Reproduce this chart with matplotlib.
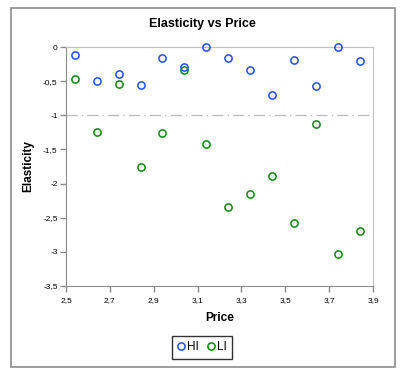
import matplotlib
matplotlib.use("Agg")
import matplotlib.pyplot as plt
from matplotlib.patches import Rectangle
from matplotlib.ticker import FuncFormatter

price = [2.54, 2.64, 2.74, 2.84, 2.94, 3.04, 3.14, 3.24, 3.34, 3.44, 3.54, 3.64, 3.74, 3.84]
hi = [-0.12, -0.49, -0.39, -0.55, -0.15, -0.29, 0.0, -0.16, -0.33, -0.70, -0.18, -0.565, 0.0, -0.195]
li = [-0.47, -1.25, -0.545, -1.75, -1.265, -0.34, -1.42, -2.34, -2.16, -1.89, -2.58, -1.12, -3.04, -2.70]
series_names = ["HI", "LI"]
xticks = [2.5, 2.7, 2.9, 3.1, 3.3, 3.5, 3.7, 3.9]
yticks = [0, -0.5, -1, -1.5, -2, -2.5, -3, -3.5]

plt.rcParams['font.family'] = ['Liberation Sans', 'DejaVu Sans']

fig = plt.figure(figsize=(4.04, 3.74), dpi=100)
fig.patches.append(Rectangle((10.5/404, 1-367/374), 384/404, 359.5/374, transform=fig.transFigure,
                             fill=False, edgecolor='#8c8c8c', linewidth=1.2))
ax = fig.add_axes([66/404, 1-285.7/374, 307/404, (285.7-47.3)/374])

ax.plot(price, hi, linestyle='none', marker='o', markersize=5.2, markerfacecolor='none',
        markeredgecolor='#1f4fff', markeredgewidth=1.1, label=series_names[0], clip_on=False, zorder=3)
ax.plot(price, li, linestyle='none', marker='o', markersize=5.2, markerfacecolor='none',
        markeredgecolor='#0a8a0a', markeredgewidth=1.1, label=series_names[1], clip_on=False, zorder=3)

ax.axhline(-1, color='#bdbdbd', linewidth=1, linestyle=(0, (8, 3, 1, 3)), zorder=1)

ax.set_xlim(2.5, 3.9)
ax.set_ylim(-3.5, 0)
ax.set_xticks(xticks)
ax.set_yticks(yticks)
fmt = FuncFormatter(lambda v, p: ('%g' % v).replace('.', ','))
ax.xaxis.set_major_formatter(fmt)
ax.yaxis.set_major_formatter(fmt)
ax.tick_params(axis='both', direction='out', length=4, width=1, color='#8c8c8c', labelsize=6, pad=2)
ax.tick_params(axis='x', pad=4)
for s in ['left', 'bottom']:
    ax.spines[s].set_color('#8c8c8c')
for s in ['top', 'right']:
    ax.spines[s].set_color('#c0c0c0')

fig.text(202/404, 1-24/374, 'Elasticity vs Price', fontsize=9, fontweight='bold',
         ha='center', va='center')
ax.set_xlabel('Price', fontsize=8.5, fontweight='bold', labelpad=6)
ax.set_ylabel('Elasticity', fontsize=8.5, fontweight='bold', labelpad=6)

leg = fig.legend(loc='center', bbox_to_anchor=(202/404, 1-347.5/374), ncol=2, fontsize=8.5,
                 frameon=True, fancybox=False, handlelength=0.6, handletextpad=0.2,
                 columnspacing=0.7, borderpad=0.45, markerscale=1.0)
leg.get_frame().set_edgecolor('black')
leg.get_frame().set_linewidth(1)

fig.savefig('out.png', dpi=100)
